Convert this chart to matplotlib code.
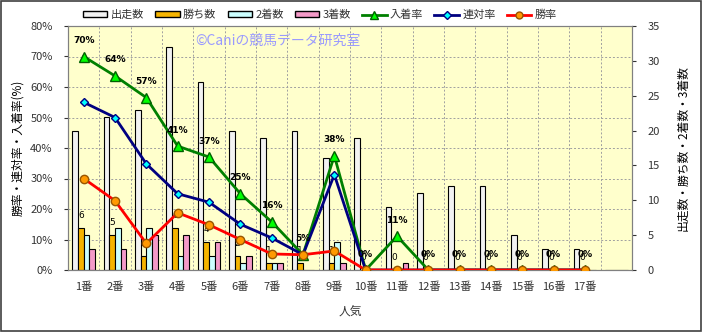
import matplotlib.pyplot as plt
import numpy as np
from matplotlib.patches import Patch, Rectangle
from matplotlib.lines import Line2D
from matplotlib.ticker import FuncFormatter

plt.rcParams['font.family'] = ['Noto Sans CJK JP', 'DejaVu Sans']

labels = ['1番', '2番', '3番', '4番', '5番', '6番', '7番', '8番', '9番',
          '10番', '11番', '12番', '13番', '14番', '15番', '16番', '17番', '']
runs = [20, 22, 23, 32, 27, 20, 19, 20, 16, 19, 9, 11, 12, 12, 5, 3, 3, 0]
wins = [6, 5, 2, 6, 4, 2, 1, 1, 1, 0, 0, 0, 0, 0, 0, 0, 0, 0]
seconds = [5, 6, 6, 2, 2, 1, 1, 0, 4, 0, 0, 0, 0, 0, 0, 0, 0, 0]
thirds = [3, 3, 5, 5, 4, 2, 1, 0, 1, 0, 1, 0, 0, 0, 0, 0, 0, 0]
n = 17  # categories with data

win_rate = [wins[i] / runs[i] for i in range(n)]
rentai_rate = [(wins[i] + seconds[i]) / runs[i] for i in range(n)]
place_rate = [(wins[i] + seconds[i] + thirds[i]) / runs[i] for i in range(n)]

fig = plt.figure(figsize=(7.03, 3.32), dpi=100)
ax = fig.add_axes([68/703, 1-270/332, (632-68)/703, (270-26)/332])
ax.set_facecolor('#FFFFCC')
ax.set_axisbelow(True)
ax2 = ax.twinx()

x = np.arange(len(labels))
w = 0.18
ax.bar(x - 1.5*w, runs, w, color='#F2F2F2', edgecolor='black', linewidth=0.8)
ax.bar(x - 0.5*w, wins, w, color='#F5B400', edgecolor='black', linewidth=0.8)
ax.bar(x + 0.5*w, seconds, w, color='#CCFFFF', edgecolor='black', linewidth=0.8)
ax.bar(x + 1.5*w, thirds, w, color='#F49AC8', edgecolor='black', linewidth=0.8)

for i in range(n):
    ax.annotate(str(wins[i]), (x[i] - 0.5*w, wins[i]), xytext=(0, 9),
                textcoords='offset points', ha='center', va='center',
                fontsize=6.5, family='DejaVu Sans')

ax.set_xlim(-0.5, len(labels) - 0.5)
ax.set_ylim(0, 35)
ax.yaxis.tick_right()
ax.yaxis.set_label_position('right')
ax.set_yticks(range(0, 36, 5))
ax.set_yticks(np.arange(0, 35.01, 35/8), minor=True)
ax.set_xticks(x)
ax.set_xticklabels(labels)
ax.set_xticks(np.arange(0.5, 17, 1), minor=True)
ax.grid(which='minor', color='#A0A0A0', linestyle=(0, (2, 2)), linewidth=0.7)
ax.tick_params(axis='x', which='both', length=0, labelsize=8, colors='#333333', pad=8)
ax.tick_params(axis='y', which='minor', length=0)
ax.tick_params(axis='y', which='major', length=3, labelsize=8, colors='#333333', pad=8)
ax.set_ylabel('出走数・勝ち数・2着数・3着数', fontsize=8.5, rotation=90, labelpad=12)
ax.set_xlabel('人気', fontsize=8.5, color='#333333', labelpad=10)
for s in ax.spines.values():
    s.set_color('#808080')

ax2.yaxis.tick_left()
ax2.yaxis.set_label_position('left')
ax2.plot(x[:n], place_rate, color='#008000', linewidth=2, marker='^', markersize=7,
         markerfacecolor='#00FF00', markeredgecolor='#006000', zorder=3)
ax2.plot(x[:n], rentai_rate, color='#000080', linewidth=2, marker='D', markersize=4.5,
         markerfacecolor='#00FFFF', markeredgecolor='#000080', zorder=4)
ax2.plot(x[:n], win_rate, color='#FF0000', linewidth=2, marker='o', markersize=6,
         markerfacecolor='#FF9900', markeredgecolor='#995500', zorder=5)
for i in range(n):
    ax2.annotate('%d%%' % round(place_rate[i] * 100), (x[i], place_rate[i]), xytext=(0, 11.5),
                 textcoords='offset points', ha='center', va='center',
                 fontsize=6.5, fontweight='bold', family='DejaVu Sans', zorder=6)
ax2.set_ylim(0, 0.8)
ax2.set_yticks(np.arange(0, 0.81, 0.1))
ax2.yaxis.set_major_formatter(FuncFormatter(lambda v, p: '%d%%' % round(v * 100)))
ax2.tick_params(axis='y', length=3, labelsize=8, colors='#333333', pad=8)
ax2.set_ylabel('勝率・連対率・入着率(%)', fontsize=8.5, labelpad=4)
for s in ax2.spines.values():
    s.set_color('#808080')

ax.text(0.373, 0.94, '©Caniの競馬データ研究室', transform=ax.transAxes,
        ha='center', va='center', fontsize=10, color='#9999FF')

handles = [
    Patch(facecolor='#F2F2F2', edgecolor='black', label='出走数'),
    Patch(facecolor='#F5B400', edgecolor='black', label='勝ち数'),
    Patch(facecolor='#CCFFFF', edgecolor='black', label='2着数'),
    Patch(facecolor='#F49AC8', edgecolor='black', label='3着数'),
    Line2D([], [], color='#008000', lw=2, marker='^', markersize=6,
           markerfacecolor='#00FF00', markeredgecolor='#006000', label='入着率'),
    Line2D([], [], color='#000080', lw=2, marker='D', markersize=4,
           markerfacecolor='#00FFFF', markeredgecolor='#000080', label='連対率'),
    Line2D([], [], color='#FF0000', lw=2, marker='o', markersize=5,
           markerfacecolor='#FF9900', markeredgecolor='#995500', label='勝率'),
]
fig.legend(handles=handles, loc='center', bbox_to_anchor=(0.455, 0.955), ncol=7,
           frameon=False, fontsize=8, handlelength=2.2, handleheight=0.5,
           columnspacing=1.0, handletextpad=0.3, labelcolor='#333333')

fig.patches.append(Rectangle((0.001, 0.004), 0.996, 0.993, transform=fig.transFigure,
                             fill=False, edgecolor='#404040', linewidth=1.2))

fig.savefig('out.png', dpi=100)
